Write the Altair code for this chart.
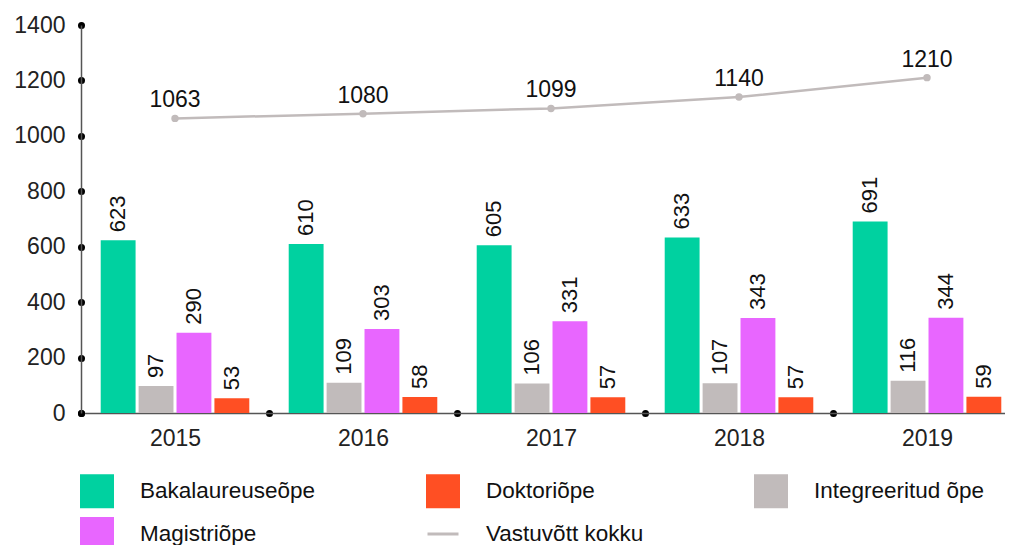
import altair as alt
import pandas as pd

years = ["2015", "2016", "2017", "2018", "2019"]
bakalaureus = [623, 610, 605, 633, 691]
integreeritud = [97, 109, 106, 107, 116]
magister = [290, 303, 331, 343, 344]
doktor = [53, 58, 57, 57, 59]
kokku = [1063, 1080, 1099, 1140, 1210]

bar_series = ["Bakalaureuseõpe", "Integreeritud õpe", "Magistriõpe", "Doktoriõpe"]
bar_values = [bakalaureus, integreeritud, magister, doktor]
legend_order = ["Bakalaureuseõpe", "Doktoriõpe", "Integreeritud õpe", "Magistriõpe", "Vastuvõtt kokku"]
colors = ["#00D1A0", "#FF4F23", "#C1BBBB", "#E866FF", "#C1BBBB"]

rows = []
for s, vals in zip(bar_series, bar_values):
    for y, v in zip(years, vals):
        rows.append({"year": y, "series": s, "value": v})
bars_df = pd.DataFrame(rows)
line_df = pd.DataFrame({"year": years, "series": "Vastuvõtt kokku", "value": kokku})

FONT = "Liberation Sans"
LEG_FONT = "Liberation Sans"

x_enc = alt.X(
    "year:N",
    title=None,
    scale=alt.Scale(paddingInner=0, paddingOuter=0, range=[0, 940]),
    axis=alt.Axis(
        labelAngle=0,
        labelFont=FONT,
        labelFontSize=23,
        labelColor="#222",
        labelPadding=14,
        domainColor="#555",
        domainWidth=1.5,
        tickBand="extent",
        tickColor="#000",
        tickSize=0.01,
        tickWidth=7,
        tickCap="round",
    ),
)
y_enc = alt.Y(
    "value:Q",
    title=None,
    scale=alt.Scale(domain=[0, 1400], nice=False),
    axis=alt.Axis(
        values=[0, 200, 400, 600, 800, 1000, 1200, 1400],
        format="d",
        grid=False,
        labelFont=FONT,
        labelFontSize=23,
        labelColor="#222",
        labelPadding=16,
        domainColor="#555",
        domainWidth=1.5,
        tickColor="#000",
        tickSize=0.01,
        tickWidth=7,
        tickCap="round",
    ),
)
color_enc = alt.Color(
    "series:N",
    scale=alt.Scale(domain=legend_order, range=colors),
    legend=alt.Legend(
        title=None,
        orient="none",
        legendX=-1,
        legendY=449,
        direction="horizontal",
        columns=3,
        columnPadding=105,
        rowPadding=-1,
        padding=0,
        labelFont=LEG_FONT,
        labelFontSize=22.5,
        labelColor="#111",
        labelOffset=26,
        labelLimit=300,
        symbolSize=961,
        symbolType={"expr": "datum.value == 'Vastuvõtt kokku' ? 'stroke' : 'square'"},
        symbolStrokeColor={"expr": "datum.value == 'Vastuvõtt kokku' ? '#C1BBBB' : 'transparent'"},
        symbolStrokeWidth=3,
        symbolOpacity=1,
    ),
)

bars = alt.Chart(bars_df).mark_bar(opacity=1).encode(
    x=x_enc,
    xOffset=alt.XOffset("series:N", sort=bar_series,
                        scale=alt.Scale(paddingInner=0.08, paddingOuter=0.52)),
    y=y_enc,
    color=color_enc,
)
bar_text = alt.Chart(bars_df).mark_text(
    angle=270, align="left", baseline="middle", dx=8,
    font=FONT, fontSize=22, color="#111",
).encode(
    x=alt.X("year:N"),
    xOffset=alt.XOffset("series:N", sort=bar_series),
    y=alt.Y("value:Q"),
    text=alt.Text("value:Q"),
)
line = alt.Chart(line_df).mark_line(strokeWidth=2.5).encode(
    x=alt.X("year:N"), y=alt.Y("value:Q"), color=color_enc,
)
pts = alt.Chart(line_df).mark_point(filled=True, size=55, opacity=1, color="#C1BBBB").encode(
    x=alt.X("year:N"), y=alt.Y("value:Q"),
)
line_text = alt.Chart(line_df).mark_text(
    baseline="alphabetic", dy=-11, font=FONT, fontSize=23, color="#111",
).encode(
    x=alt.X("year:N"), y=alt.Y("value:Q"), text=alt.Text("value:Q"),
)

chart = alt.layer(bars, bar_text, line, pts, line_text).properties(
    width=924, height=388,
    autosize=alt.AutoSizeParams(type="none"),
    padding={"left": 73, "top": 17, "right": 0, "bottom": 140},
).configure_view(stroke=None)

chart.save("out.html", embed_options={"renderer": "svg", "actions": False})
